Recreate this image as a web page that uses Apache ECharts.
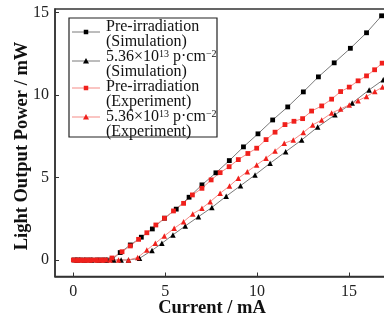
<!DOCTYPE html>
<html>
<head>
<meta charset="utf-8">
<script src="https://cdn.jsdelivr.net/npm/echarts@6/dist/echarts.min.js"></script>
<style>
  html, body { margin: 0; padding: 0; background: #fff; }
  #chart { width: 384px; height: 323px; }
</style>
</head>
<body>
<div id="chart"></div>
<script>
// Light output power vs. injection current (L-I curves)
const xTicks = [0, 5, 10, 15];
const yTicks = [0, 5, 10, 15];

// Pre-irradiation, simulation
const simPreX = [0.05, 0.23, 0.43, 0.71, 0.96, 1.29, 1.56, 1.79, 2.1, 2.55, 3.1, 3.7, 4.3, 4.96, 5.6, 6.3, 7.0, 7.76, 8.49, 9.26, 10.05, 10.85, 11.67, 12.52, 13.34, 14.2, 15.08, 15.96, 16.78];
const simPreY = [0, 0, 0, 0, 0, 0, 0, 0, 0.02, 0.45, 0.91, 1.38, 1.88, 2.53, 3.08, 3.8, 4.55, 5.28, 6.02, 6.85, 7.64, 8.48, 9.27, 10.18, 11.09, 11.94, 12.82, 13.76, 14.79];

// 5.36e13 p/cm2, simulation
const simIrrX = [0.2, 0.6, 1.0, 1.4, 1.8, 2.2, 2.6, 3.0, 3.6, 4.28, 4.82, 5.42, 6.09, 6.81, 7.54, 8.32, 9.1, 9.89, 10.71, 11.56, 12.43, 13.3, 14.24, 15.18, 16.1, 16.87];
const simIrrY = [0, 0, 0, 0, 0, 0, 0, 0, 0.1, 0.58, 1.01, 1.52, 2.06, 2.62, 3.18, 3.86, 4.5, 5.15, 5.86, 6.56, 7.27, 8.05, 8.79, 9.5, 10.3, 10.91];

// Pre-irradiation, experiment
const expPreX = [0, 0.25, 0.5, 0.75, 1.0, 1.25, 1.5, 1.75, 2.1, 2.65, 3.1, 3.55, 4.0, 4.49, 4.96, 5.45, 6.0, 6.48, 7.0, 7.5, 7.99, 8.48, 8.98, 9.5, 9.98, 10.49, 10.98, 11.52, 12.01, 12.48, 12.97, 13.52, 14.06, 14.55, 15.02, 15.5, 15.96, 16.4, 16.81];
const expPreY = [0, 0, 0, 0, 0, 0, 0, 0, 0.12, 0.5, 0.85, 1.25, 1.65, 2.12, 2.53, 2.97, 3.43, 3.94, 4.34, 4.85, 5.29, 5.65, 6.08, 6.45, 6.77, 7.29, 7.74, 8.2, 8.4, 8.56, 9.02, 9.33, 9.74, 10.2, 10.47, 10.85, 11.15, 11.52, 11.92];

// 5.36e13 p/cm2, experiment
const expIrrX = [0.15, 0.4, 0.65, 0.9, 1.3, 1.6, 2.0, 2.46, 3.0, 3.5, 4.0, 4.46, 4.95, 5.49, 6.0, 6.5, 7.0, 7.45, 7.99, 8.5, 8.98, 9.47, 9.98, 10.49, 10.98, 11.48, 11.97, 12.52, 13.03, 13.52, 14.06, 14.55, 15.02, 15.5, 15.96, 16.41, 16.83];
const expIrrY = [0, 0, 0, 0, 0, 0, 0, 0, 0, 0.15, 0.6, 1.01, 1.45, 1.92, 2.32, 2.79, 3.13, 3.53, 4.04, 4.48, 4.95, 5.35, 5.76, 6.16, 6.6, 7.07, 7.27, 7.72, 8.18, 8.48, 8.9, 9.15, 9.39, 9.65, 9.9, 10.2, 10.47];

const legendNames = [
  ['Pre-irradiation', '(Simulation)'],
  ['5.36×10{sup|13} p·cm{sup|−2}', '(Simulation)'],
  ['Pre-irradiation', '(Experiment)'],
  ['5.36×10{sup|13} p·cm{sup|−2}', '(Experiment)']
];
const yTitle = 'Light Output Power / mW';
const xTitle = 'Current / mA';

const FONT = '"Liberation Serif", "Times New Roman", serif';
const BLACK_LINE = '#7a7a7a', BLACK_MARK = '#000';
const RED_LINE = '#f58b86', RED_MARK = '#f0201c';

const pairs = (xs, ys) => xs.map((x, i) => [x, ys[i]]);

function lineSeries(name, xs, ys, lineColor, markColor, symbol, size) {
  return {
    name, type: 'line', data: pairs(xs, ys),
    symbol, symbolSize: size, showSymbol: true,
    lineStyle: { color: lineColor, width: 1 },
    itemStyle: { color: markColor },
    z: 3, animation: false
  };
}

const seriesDefs = [
  { xs: simPreX, ys: simPreY, line: BLACK_LINE, mark: BLACK_MARK, sym: 'rect', size: 4.8 },
  { xs: simIrrX, ys: simIrrY, line: BLACK_LINE, mark: BLACK_MARK, sym: 'triangle', size: 5.5 },
  { xs: expPreX, ys: expPreY, line: RED_LINE, mark: RED_MARK, sym: 'rect', size: 4.8 },
  { xs: expIrrX, ys: expIrrY, line: RED_LINE, mark: RED_MARK, sym: 'triangle', size: 5.5 }
];

// Legend box drawn with graphic elements (marker sits on the first text line)
const graphics = [{
  type: 'rect', shape: { x: 69, y: 18, width: 148, height: 119 },
  style: { fill: '#fff', stroke: '#222', lineWidth: 1.2 }, z: 10
}];
const entryY = [32, 61, 88, 117];
const textRows = [26.5, 41.5, 57, 72, 87, 101.5, 117, 131.5];
seriesDefs.forEach((d, i) => {
  const y = entryY[i];
  graphics.push({
    type: 'line', shape: { x1: 72, y1: y, x2: 100, y2: y },
    style: { stroke: d.line, lineWidth: 1 }, z: 11
  });
  if (d.sym === 'rect') {
    graphics.push({
      type: 'rect', shape: { x: 86 - 2.25, y: y - 2.25, width: 4.5, height: 4.5 },
      style: { fill: d.mark }, z: 12
    });
  } else {
    graphics.push({
      type: 'polygon', shape: { points: [[86, y - 3], [89, y + 2.5], [83, y + 2.5]] },
      style: { fill: d.mark }, z: 12
    });
  }
  legendNames[i].forEach((t, j) => {
    graphics.push({
      type: 'text', z: 12,
      style: {
        text: t, x: 106, y: textRows[i * 2 + j],
        font: '16px ' + FONT, fill: '#111', verticalAlign: 'middle',
        rich: { sup: { fontSize: 10, fontFamily: FONT, verticalAlign: 'top', lineHeight: 15, padding: [0, 0, 6, 0], fill: '#111' } }
      }
    });
  });
});

// Axis titles
graphics.push({
  type: 'text', x: 22, y: 146, rotation: Math.PI / 2, z: 12,
  style: { text: yTitle, font: 'bold 18.5px ' + FONT, fill: '#111', align: 'center', verticalAlign: 'middle' }
});
graphics.push({
  type: 'text', x: 212, y: 308, z: 12,
  style: { text: xTitle, font: 'bold 18.5px ' + FONT, fill: '#111', align: 'center', verticalAlign: 'middle' }
});

const chart = echarts.init(document.getElementById('chart'), null, { renderer: 'canvas' });
chart.setOption({
  animation: false,
  backgroundColor: '#fff',
  grid: {
    left: 55, top: 9, width: 349, height: 267.5,
    containLabel: false, outerBoundsMode: 'none',
    show: true, borderColor: '#333', borderWidth: 1.5, backgroundColor: 'transparent'
  },
  xAxis: {
    type: 'value', min: -1, max: 18,
    axisLine: { show: true, onZero: false, lineStyle: { color: '#333', width: 1.5 } },
    axisTick: { show: true, inside: true, length: 4, customValues: xTicks, lineStyle: { color: '#333', width: 1 } },
    axisLabel: { customValues: xTicks, margin: 7, fontFamily: FONT, fontSize: 16, color: '#222' },
    splitLine: { show: false }
  },
  yAxis: {
    type: 'value', min: -1, max: 15.2,
    axisLine: { show: true, onZero: false, lineStyle: { color: '#333', width: 1.5 } },
    axisTick: { show: true, inside: true, length: 4, customValues: yTicks, lineStyle: { color: '#333', width: 1 } },
    axisLabel: { customValues: yTicks, margin: 6, fontFamily: FONT, fontSize: 16, color: '#222' },
    splitLine: { show: false }
  },
  series: seriesDefs.map((d, i) => lineSeries('s' + i, d.xs, d.ys, d.line, d.mark, d.sym, d.size)),
  graphic: graphics
});
</script>
</body>
</html>
